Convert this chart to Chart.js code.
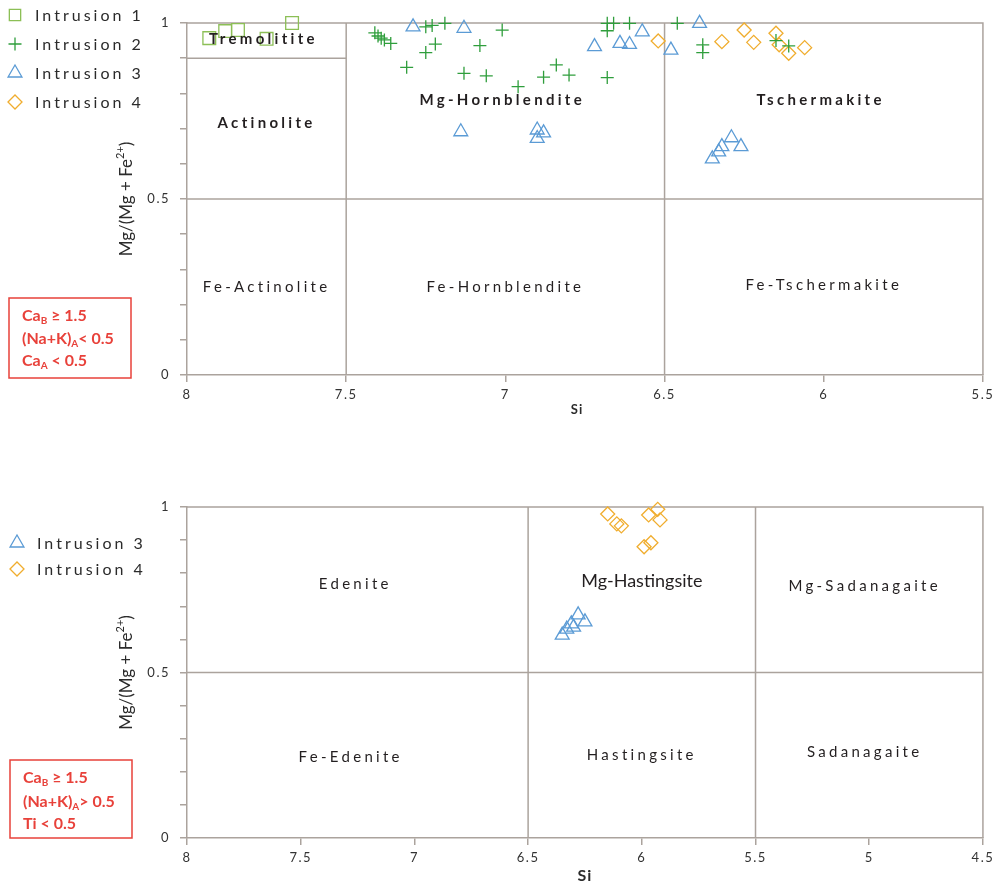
<!DOCTYPE html>
<html>
<head>
<meta charset="utf-8">
<script src="https://cdn.jsdelivr.net/npm/chart.js@4.4.1/dist/chart.umd.min.js"></script>
<style>
  html, body { margin: 0; padding: 0; background: #fff; }
  #wrap { position: relative; width: 997px; height: 885px; }
  .pane { position: absolute; left: 0; width: 997px; }
  #paneTop { top: 0; height: 440px; }
  #paneBot { top: 440px; height: 445px; }
</style>
</head>
<body>
<div id="wrap">
  <div class="pane" id="paneTop"><canvas id="chartTop"></canvas></div>
  <div class="pane" id="paneBot"><canvas id="chartBot"></canvas></div>
</div>
<script>
// ---- data (Si apfu vs Mg/(Mg+Fe2+)) ----

// Ca-amphiboles, (Na+K)A < 0.5
const int1Si = [7.93, 7.88, 7.84, 7.75, 7.67];
const int1Mg = [0.957, 0.977, 0.980, 0.955, 1.000];

const int2Si = [7.41, 7.40, 7.39, 7.38, 7.36, 7.31, 7.25, 7.25, 7.23, 7.22,
                7.19, 7.13, 7.08, 7.06, 7.01, 6.96, 6.88, 6.84, 6.80, 6.68,
                6.66, 6.68, 6.61, 6.68, 6.46, 6.38, 6.38, 6.15, 6.11];
const int2Mg = [0.972, 0.963, 0.957, 0.952, 0.942, 0.874, 0.916, 0.989, 0.993, 0.940,
                0.999, 0.857, 0.936, 0.850, 0.980, 0.819, 0.846, 0.881, 0.852, 0.999,
                0.999, 0.978, 0.999, 0.845, 0.999, 0.938, 0.916, 0.950, 0.935];

const int3Si = [7.29, 7.13, 7.14, 6.90, 6.88, 6.90, 6.72, 6.64, 6.61, 6.57,
                6.48, 6.39, 6.29, 6.26, 6.35, 6.33, 6.32];
const int3Mg = [0.989, 0.985, 0.691, 0.696, 0.688, 0.672, 0.933, 0.942, 0.939, 0.975,
                0.923, 0.999, 0.674, 0.649, 0.614, 0.634, 0.649];

const int4Si = [6.52, 6.32, 6.25, 6.22, 6.15, 6.14, 6.11, 6.06];
const int4Mg = [0.949, 0.947, 0.980, 0.945, 0.971, 0.938, 0.914, 0.930];

// Ca-amphiboles, (Na+K)A > 0.5
const int3bSi = [6.35, 6.33, 6.31, 6.28, 6.25, 6.30];
const int3bMg = [0.613, 0.631, 0.647, 0.674, 0.653, 0.637];

const int4bSi = [6.15, 6.11, 6.09, 5.97, 5.93, 5.92, 5.99, 5.96];
const int4bMg = [0.979, 0.949, 0.943, 0.976, 0.993, 0.961, 0.880, 0.892];

// field boundaries
const topSiRange = [8, 5.5];
const topSiDividers = [7.5, 6.5];
const topTremoliteMg = 0.9;
const botSiRange = [8, 4.5];
const botSiDividers = [6.5, 5.5];
const mgDivider = 0.5;

// field names + where they sit (data units)
const topFieldNames = ["Tremolitite", "Actinolite", "Mg-Hornblendite", "Tschermakite",
                       "Fe-Actinolite", "Fe-Hornblendite", "Fe-Tschermakite"];
const topFieldSi = [7.76, 7.75, 7.01, 6.01, 7.75, 7.0, 6.0];
const topFieldMg = [0.955, 0.715, 0.78, 0.78, 0.25, 0.25, 0.255];
const botFieldNames = ["Edenite", "Mg-Hastingsite", "Mg-Sadanagaite",
                       "Fe-Edenite", "Hastingsite", "Sadanagaite"];
const botFieldSi = [7.26, 6.0, 5.02, 7.28, 6.0, 5.02];
const botFieldMg = [0.767, 0.776, 0.761, 0.245, 0.25, 0.26];

const yTickLabels = [0, 0.5, 1];

// ---- styles ----
const FONT = 'Lato, "Open Sans", sans-serif';
const GRID = "#aba39d";
const RED = "#e8413a";
const INK = "#231f20";
const C1 = "#8cbf56", C2 = "#2f9e3c", C3 = "#5b9bd5", C4 = "#f0ad2e";

function pts(xs, ys) { return xs.map((v, i) => ({ x: v, y: ys[i] })); }

function marks(label, xs, ys, style, r, color) {
    return {
        label, data: pts(xs, ys),
        pointStyle: style, pointRadius: r, pointHoverRadius: r,
        borderColor: color, backgroundColor: "rgba(0,0,0,0)",
        pointBorderWidth: 1.3, showLine: false, clip: false, order: 0,
    };
}

function rule(data) {
    return {
        data, showLine: true, pointRadius: 0, borderColor: GRID,
        borderWidth: 1.5, tension: 0, clip: false, order: 10, fill: false,
    };
}

// text with sub/superscript pieces
function drawRich(ctx, x, y, parts, size, weight, align) {
    const fontFor = p => `${weight} ${p.s ? Math.round(size * 0.62) : size}px ${FONT}`;
    let total = 0;
    parts.forEach(p => { ctx.font = fontFor(p); total += ctx.measureText(p.t).width; });
    let cx = align === "center" ? x - total / 2 : x;
    ctx.textAlign = "left";
    parts.forEach(p => {
        ctx.font = fontFor(p);
        const dy = p.s === "sub" ? size * 0.3 : p.s === "sup" ? -size * 0.38 : 0;
        ctx.fillText(p.t, cx, y + dy);
        cx += ctx.measureText(p.t).width;
    });
}

function drawSymbol(ctx, style, r, color, x, y) {
    ctx.save();
    ctx.strokeStyle = color;
    ctx.fillStyle = "rgba(0,0,0,0)";
    Chart.helpers.drawPoint(ctx, { pointStyle: style, radius: r, rotation: 0, borderWidth: 1.3 }, x, y);
    ctx.restore();
}

// legend, field names, axis titles, red condition box
function decor(cfg) {
    return {
        id: "decor",
        beforeDraw(chart) { chart.ctx.letterSpacing = "1.5px"; },
        afterDatasetsDraw(chart) {
            const { ctx, chartArea } = chart;
            const xs = chart.scales.x, ys = chart.scales.y;
            ctx.save();
            ctx.textBaseline = "middle";
            ctx.fillStyle = INK;

            // field names
            cfg.names.forEach((name, i) => {
                const st = cfg.fieldStyle(i);
                ctx.font = `${st.bold ? "bold" : "normal"} ${st.size}px ${FONT}`;
                ctx.letterSpacing = st.ls + "px";
                ctx.textAlign = "center";
                ctx.fillText(name, xs.getPixelForValue(cfg.si[i]), ys.getPixelForValue(cfg.mg[i]));
            });

            // legend
            ctx.letterSpacing = "3px";
            ctx.font = `16px ${FONT}`;
            ctx.fillStyle = "#2b2b2b";
            cfg.legend.forEach((it, i) => {
                const y = cfg.legendTop + i * cfg.legendStep;
                drawSymbol(ctx, it.style, it.r, it.color, cfg.legendX, y);
                ctx.textAlign = "left";
                ctx.fillText(it.label, cfg.legendX + 20, y + 1);
            });

            // y title (rotated)
            ctx.letterSpacing = "0px";
            ctx.save();
            ctx.translate(127, (chartArea.top + chartArea.bottom) / 2);
            ctx.rotate(-Math.PI / 2);
            ctx.fillStyle = "#2b2b2b";
            drawRich(ctx, 0, 0, [{ t: "Mg/(Mg + Fe" }, { t: "2+", s: "sup" }, { t: ")" }], 17, "normal", "center");
            ctx.restore();

            // x title
            ctx.font = `bold ${cfg.siSize}px ${FONT}`;
            ctx.letterSpacing = "1px";
            ctx.textAlign = "center";
            ctx.fillStyle = "#2b2b2b";
            ctx.fillText("Si", cfg.siX, cfg.siY);

            // condition box
            ctx.letterSpacing = "0px";
            ctx.strokeStyle = RED;
            ctx.lineWidth = 1.5;
            ctx.strokeRect(cfg.box[0], cfg.box[1], cfg.box[2], cfg.box[3]);
            ctx.fillStyle = RED;
            cfg.boxLines.forEach((parts, i) => {
                drawRich(ctx, cfg.box[0] + 13, cfg.boxLineY[i], parts, 16, "bold", "left");
            });
            ctx.restore();
        },
        afterDraw(chart) { chart.ctx.letterSpacing = "0px"; },
    };
}

function scaleOpts(range, xHeight) {
    return {
        x: {
            type: "linear", reverse: true, min: range[1], max: range[0],
            afterFit: s => { s.height = xHeight; },
            ticks: {
                stepSize: 0.5, color: "#333", padding: 5, font: { family: FONT, size: 13 },
                callback: v => String(Number(v.toFixed(2))),
            },
            grid: { drawOnChartArea: false, color: GRID, lineWidth: 1.5, tickLength: 7 },
            border: { color: GRID, width: 1.5 },
        },
        y: {
            min: 0, max: 1,
            afterFit: s => { s.width = 187; },
            ticks: {
                stepSize: 0.1, color: "#333", padding: 10, autoSkip: false,
                font: { family: FONT, size: 13 },
                callback: v => {
                    const hit = yTickLabels.find(t => Math.abs(t - v) < 1e-6);
                    return hit === undefined ? "" : String(hit);
                },
            },
            grid: { drawOnChartArea: false, color: GRID, lineWidth: 1.5, tickLength: 7 },
            border: { color: GRID, width: 1.5 },
        },
    };
}

const baseOpts = {
    responsive: true, maintainAspectRatio: false, animation: false, events: [],
    plugins: { legend: { display: false }, tooltip: { enabled: false } },
};

// ---- top diagram ----
const topDatasets = [
    marks("Intrusion 1", int1Si, int1Mg, "rect", 9, C1),
    marks("Intrusion 2", int2Si, int2Mg, "cross", 6.5, C2),
    marks("Intrusion 3", int3Si, int3Mg, "triangle", 8, C3),
    marks("Intrusion 4", int4Si, int4Mg, "rectRot", 7, C4),
    ...topSiDividers.map(si => rule([{ x: si, y: 0 }, { x: si, y: 1 }])),
    rule([{ x: topSiRange[0], y: mgDivider }, { x: topSiRange[1], y: mgDivider }]),
    rule([{ x: topSiRange[0], y: topTremoliteMg }, { x: topSiDividers[0], y: topTremoliteMg }]),
    rule([{ x: topSiRange[0], y: 1 }, { x: topSiRange[1], y: 1 }, { x: topSiRange[1], y: 0 }]),
];

new Chart(document.getElementById("chartTop"), {
    type: "scatter",
    data: { datasets: topDatasets },
    options: {
        ...baseOpts,
        layout: { padding: { left: 0, right: 12, top: 23, bottom: 0 } },
        scales: scaleOpts(topSiRange, 65),
    },
    plugins: [decor({
        names: topFieldNames, si: topFieldSi, mg: topFieldMg,
        fieldStyle: i => i < 4 ? { bold: true, size: 15, ls: 3.3 } : { bold: false, size: 15, ls: 3.3 },
        legend: [
            { label: "Intrusion 1", style: "rect", r: 8, color: C1 },
            { label: "Intrusion 2", style: "cross", r: 6.5, color: C2 },
            { label: "Intrusion 3", style: "triangle", r: 8, color: C3 },
            { label: "Intrusion 4", style: "rectRot", r: 7, color: C4 },
        ],
        legendX: 15, legendTop: 15, legendStep: 29,
        siX: 577, siY: 410, siSize: 13,
        box: [9, 298, 122, 80], boxLineY: [316, 339, 361],
        boxLines: [
            [{ t: "Ca" }, { t: "B", s: "sub" }, { t: " \u2265 1.5" }],
            [{ t: "(Na+K)" }, { t: "A", s: "sub" }, { t: "< 0.5" }],
            [{ t: "Ca" }, { t: "A", s: "sub" }, { t: " < 0.5" }],
        ],
    })],
});

// ---- bottom diagram ----
const botDatasets = [
    marks("Intrusion 3", int3bSi, int3bMg, "triangle", 8, C3),
    marks("Intrusion 4", int4bSi, int4bMg, "rectRot", 7, C4),
    ...botSiDividers.map(si => rule([{ x: si, y: 0 }, { x: si, y: 1 }])),
    rule([{ x: botSiRange[0], y: mgDivider }, { x: botSiRange[1], y: mgDivider }]),
    rule([{ x: botSiRange[0], y: 1 }, { x: botSiRange[1], y: 1 }, { x: botSiRange[1], y: 0 }]),
];

new Chart(document.getElementById("chartBot"), {
    type: "scatter",
    data: { datasets: botDatasets },
    options: {
        ...baseOpts,
        layout: { padding: { left: 0, right: 12, top: 67, bottom: 0 } },
        scales: scaleOpts(botSiRange, 47),
    },
    plugins: [decor({
        names: botFieldNames, si: botFieldSi, mg: botFieldMg,
        fieldStyle: i => i === 1 ? { bold: false, size: 18, ls: 0 } : { bold: false, size: 15, ls: 3.3 },
        legend: [
            { label: "Intrusion 3", style: "triangle", r: 8, color: C3 },
            { label: "Intrusion 4", style: "rectRot", r: 7, color: C4 },
        ],
        legendX: 17, legendTop: 103, legendStep: 26,
        siX: 585, siY: 436, siSize: 16,
        box: [10, 320, 122, 78], boxLineY: [338, 362, 384],
        boxLines: [
            [{ t: "Ca" }, { t: "B", s: "sub" }, { t: " \u2265 1.5" }],
            [{ t: "(Na+K)" }, { t: "A", s: "sub" }, { t: "> 0.5" }],
            [{ t: "Ti < 0.5" }],
        ],
    })],
});
</script>
</body>
</html>
